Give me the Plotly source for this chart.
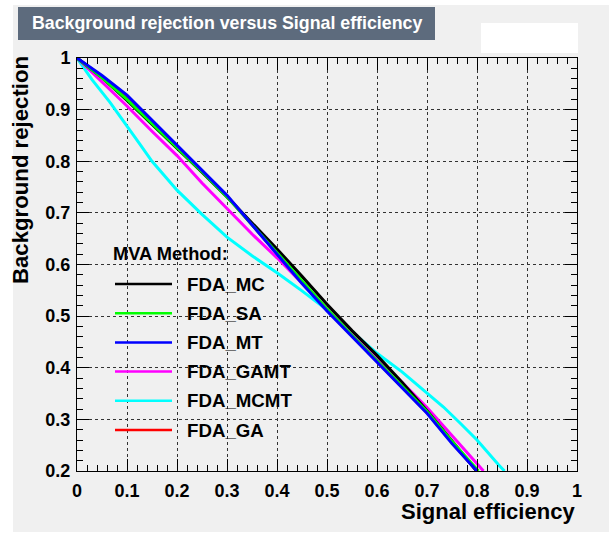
import plotly.graph_objects as go

# ROC curves: signal efficiency vs background rejection for each FDA fitter
methods = ["FDA_MC", "FDA_SA", "FDA_MT", "FDA_GAMT", "FDA_MCMT", "FDA_GA"]
colors = ["#000000", "#00ff00", "#0000ff", "#ff00ff", "#00ffff", "#ff0000"]

eff_mc = [0, 0.05, 0.1, 0.15, 0.2, 0.25, 0.3, 0.35, 0.4, 0.45, 0.5, 0.55, 0.6, 0.65, 0.7, 0.75, 0.8]
rej_mc = [1, 0.962, 0.918, 0.872, 0.826, 0.779, 0.731, 0.681, 0.630, 0.577, 0.523, 0.472, 0.424, 0.372, 0.317, 0.258, 0.199]

eff_sa = [0, 0.05, 0.1, 0.15, 0.2, 0.25, 0.3, 0.35, 0.4, 0.45, 0.5, 0.55, 0.6, 0.65, 0.7, 0.75, 0.803]
rej_sa = [1, 0.962, 0.92, 0.874, 0.828, 0.78, 0.731, 0.678, 0.623, 0.568, 0.514, 0.463, 0.414, 0.363, 0.315, 0.257, 0.2]

eff_mt = [0, 0.05, 0.1, 0.15, 0.2, 0.25, 0.3, 0.35, 0.4, 0.45, 0.5, 0.55, 0.6, 0.65, 0.7, 0.75, 0.8]
rej_mt = [1, 0.966, 0.928, 0.88, 0.831, 0.783, 0.734, 0.677, 0.62, 0.563, 0.51, 0.46, 0.41, 0.362, 0.312, 0.253, 0.2]

eff_gamt = [0, 0.05, 0.1, 0.15, 0.2, 0.25, 0.3, 0.35, 0.4, 0.45, 0.5, 0.55, 0.6, 0.65, 0.7, 0.75, 0.813]
rej_gamt = [1, 0.954, 0.907, 0.858, 0.811, 0.758, 0.708, 0.659, 0.613, 0.565, 0.515, 0.466, 0.42, 0.372, 0.323, 0.268, 0.2]

eff_mcmt = [0, 0.03, 0.066, 0.1, 0.125, 0.15, 0.175, 0.2, 0.25, 0.3, 0.35, 0.4, 0.45, 0.5, 0.55, 0.6, 0.65, 0.7, 0.733, 0.766, 0.8, 0.843, 0.855]
rej_mcmt = [1, 0.958, 0.914, 0.869, 0.834, 0.8, 0.771, 0.744, 0.697, 0.653, 0.617, 0.584, 0.549, 0.512, 0.47, 0.428, 0.392, 0.351, 0.324, 0.293, 0.26, 0.212, 0.2]

eff_ga = [0, 0.05, 0.1, 0.15, 0.2, 0.25, 0.3, 0.35, 0.4, 0.45, 0.5, 0.55, 0.6, 0.65, 0.7, 0.75, 0.8]
rej_ga = [1, 0.964, 0.924, 0.877, 0.829, 0.781, 0.732, 0.678, 0.622, 0.566, 0.512, 0.462, 0.412, 0.362, 0.313, 0.255, 0.2]

curves = {
    "FDA_MC": (eff_mc, rej_mc),
    "FDA_SA": (eff_sa, rej_sa),
    "FDA_MT": (eff_mt, rej_mt),
    "FDA_GAMT": (eff_gamt, rej_gamt),
    "FDA_MCMT": (eff_mcmt, rej_mcmt),
    "FDA_GA": (eff_ga, rej_ga),
}
draw_order = ["FDA_GA", "FDA_MCMT", "FDA_GAMT", "FDA_MC", "FDA_SA", "FDA_MT"]

x_ticks = [0, 0.1, 0.2, 0.3, 0.4, 0.5, 0.6, 0.7, 0.8, 0.9, 1]
y_ticks = [0.2, 0.3, 0.4, 0.5, 0.6, 0.7, 0.8, 0.9, 1]

title_text = "Background rejection versus Signal efficiency"
x_title = "Signal efficiency"
y_title = "Background rejection"
legend_header = "MVA Method:"

W, H = 609, 534
ML, MR, MT, MB = 77, 32, 58, 63
FONT = "Liberation Sans, Arial, Helvetica, sans-serif"


def fx(p):
    return (p - ML) / (W - ML - MR)


def fy(p):
    return (H - MB - p) / (H - MT - MB)


fig = go.Figure()
for name in draw_order:
    xs, ys = curves[name]
    fig.add_trace(go.Scatter(
        x=xs, y=ys, mode="lines", name=name, showlegend=False,
        line=dict(color=colors[methods.index(name)], width=3),
        hoverinfo="skip",
    ))

axis_common = dict(
    showline=True, linecolor="black", linewidth=1, mirror="ticks",
    ticks="inside", ticklen=12, tickwidth=1, tickcolor="black",
    showgrid=True, gridcolor="#333333", griddash="dot", gridwidth=1,
    zeroline=False,
    tickfont=dict(family=FONT, size=18, color="black", weight="bold"),
    minor=dict(ticks="inside", ticklen=6, tickwidth=1, tickcolor="black",
               dtick=0.02, showgrid=False),
)

fig.update_xaxes(range=[0, 1], tickvals=x_ticks,
                 ticktext=[f"{v:g}" for v in x_ticks],
                 ticklabelstandoff=3, **axis_common)
fig.update_yaxes(range=[0.2, 1], tickvals=y_ticks,
                 ticktext=[f"{v:g}" for v in y_ticks],
                 ticklabelstandoff=2, **axis_common)

shapes = [
    # canvas background
    dict(type="rect", xref="paper", yref="paper", x0=fx(13), x1=fx(609),
         y0=fy(532), y1=fy(5), fillcolor="#f0f0f0", line=dict(width=0),
         layer="below"),
    # title box
    dict(type="rect", xref="paper", yref="paper", x0=fx(18), x1=fx(435),
         y0=fy(40), y1=fy(7), fillcolor="#5D6B7D", line=dict(width=0)),
    # blank stats box
    dict(type="rect", xref="paper", yref="paper", x0=fx(481), x1=fx(578),
         y0=fy(53), y1=fy(23), fillcolor="white", line=dict(width=0)),
]

annotations = [
    dict(text=f"<b>{title_text}</b>", xref="paper", yref="paper",
         x=fx(226.5), y=fy(23.5), xanchor="center", yanchor="middle",
         showarrow=False, font=dict(family=FONT, size=17.8, color="white")),
    dict(text=f"<b>{x_title}</b>", xref="paper", yref="paper",
         x=fx(577), y=fy(512), xanchor="right", yanchor="middle",
         showarrow=False, font=dict(family=FONT, size=22, color="black")),
    dict(text=f"<b>{y_title}</b>", xref="paper", yref="paper",
         x=fx(21), y=fy(54), xanchor="center", yanchor="top", textangle=-90,
         showarrow=False, font=dict(family=FONT, size=22.2, color="black")),
    dict(text=f"<b>{legend_header}</b>", xref="paper", yref="paper",
         x=fx(111), y=fy(254), xanchor="left", yanchor="middle",
         showarrow=False, font=dict(family=FONT, size=18.3, color="black")),
]

row0, row_step = 284, 29.2
for i, name in enumerate(methods):
    yrow = row0 + i * row_step
    shapes.append(dict(type="line", xref="paper", yref="paper",
                       x0=fx(115), x1=fx(172), y0=fy(yrow), y1=fy(yrow),
                       line=dict(color=colors[i], width=2.5)))
    annotations.append(dict(text=f"<b>{name}</b>", xref="paper", yref="paper",
                            x=fx(185), y=fy(yrow), xanchor="left",
                            yanchor="middle", showarrow=False,
                            font=dict(family=FONT, size=18.7, color="black")))

fig.update_layout(
    width=W, height=H,
    margin=dict(l=ML, r=MR, t=MT, b=MB, pad=0),
    paper_bgcolor="white", plot_bgcolor="#fffffd",
    shapes=shapes, annotations=annotations,
    showlegend=False,
)

fig.write_html("out.html")
